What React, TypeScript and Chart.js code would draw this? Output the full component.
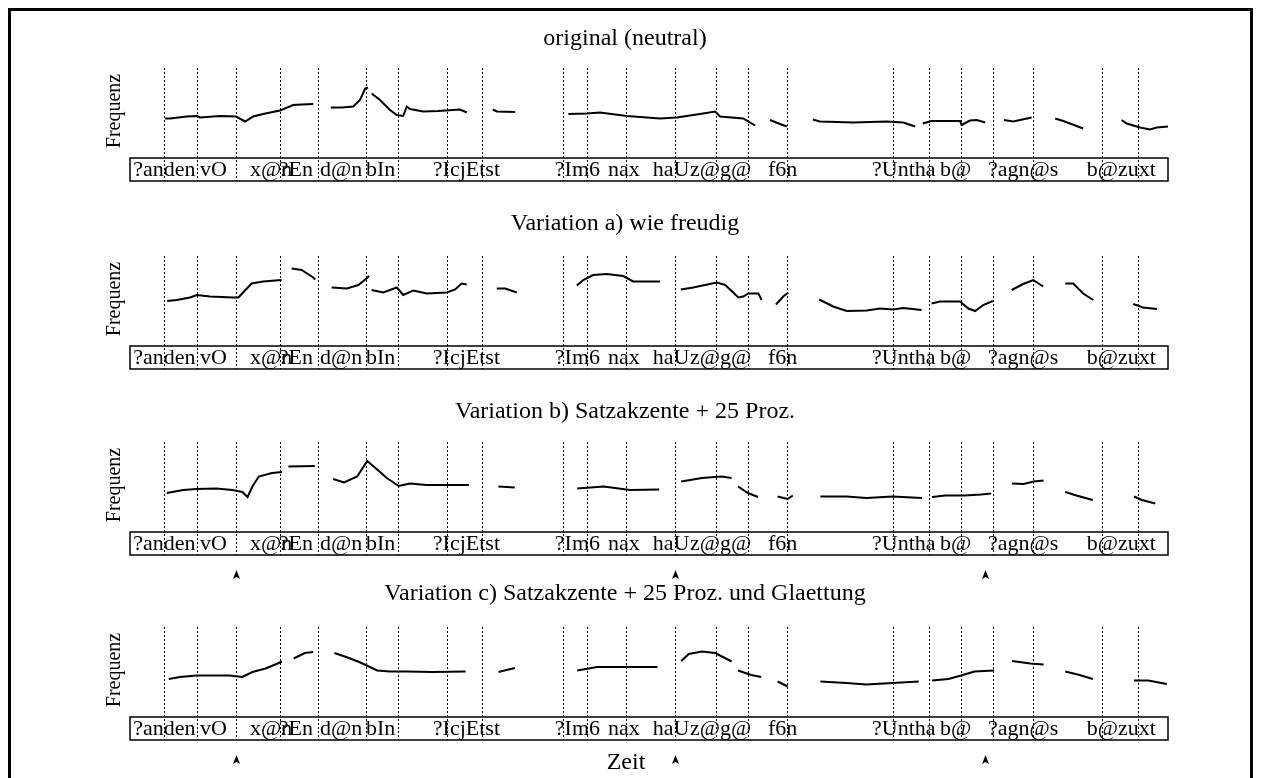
import React, { useEffect, useRef } from "react";
import { Chart, registerables } from "chart.js";

Chart.register(...registerables);

// ---- data (time in ms, fundamental frequency in Hz) ----
const boundaryMs = [84, 168, 265, 375, 469, 589, 671, 793, 880, 1083, 1143, 1240, 1363, 1466, 1544, 1643, 1907, 1998, 2078, 2158, 2257, 2429, 2521];
const phonemeText = ["?anden", "vO", "x@n", "?En", "d@n", "bIn", "?IcjEtst", "?Im6", "nax", "haU", "z@g@", "f6n", "?Untha", "b@", "?agn@s", "b@zuxt"];
const phonemeStartMs = [8, 175, 300, 372, 475, 590, 757, 1062, 1195, 1307, 1400, 1595, 1855, 2025, 2145, 2392];
const accentMs = [265, 1363, 2138];
const panelTitles = [
  "original (neutral)",
  "Variation a) wie freudig",
  "Variation b) Satzakzente + 25 Proz.",
  "Variation c) Satzakzente + 25 Proz. und Glaettung",
];
const yAxisLabel = "Frequenz";
const xAxisLabel = "Zeit";

const neutralMs = [
  [88, 100, 142, 168, 175, 225, 265, 288, 308, 333, 375, 408, 429, 458],
  [502, 530, 558, 575, 588, 595],
  [604, 625, 650, 667, 683, 692, 700, 733, 770, 808, 825, 842],
  [907, 917, 963],
  [1096, 1142, 1175, 1242, 1325, 1367, 1433, 1463, 1475, 1533, 1550, 1563],
  [1600, 1625, 1642],
  [1707, 1725, 1808, 1892, 1933, 1963],
  [1982, 2004, 2075, 2079, 2100, 2117, 2138],
  [2185, 2208, 2254],
  [2313, 2333, 2383],
  [2479, 2492, 2525, 2550, 2567, 2596],
];
const neutralHz = [
  [159, 159, 163, 164, 161, 164, 163, 153, 163, 168, 175, 186, 187, 188],
  [181, 181, 183, 196, 219, 221],
  [209, 196, 176, 166, 164, 183, 178, 173, 174, 176, 177, 171],
  [177, 173, 172],
  [168, 169, 171, 164, 159, 161, 169, 173, 163, 159, 151, 145],
  [156, 148, 143],
  [157, 153, 151, 153, 151, 143],
  [149, 154, 154, 146, 155, 156, 151],
  [156, 153, 161],
  [159, 154, 139],
  [156, 149, 141, 137, 141, 143],
];

const joyfulMs = [
  [93, 117, 150, 167, 200, 258, 271, 304, 333, 379],
  [404, 429, 458, 463],
  [504, 542, 571, 588, 598],
  [604, 633, 667, 683, 708, 742, 792, 813, 829, 842],
  [917, 938, 967],
  [1117, 1133, 1158, 1192, 1233, 1258, 1325],
  [1377, 1408, 1467, 1488, 1521, 1533, 1546, 1571, 1579],
  [1615, 1633, 1646],
  [1723, 1758, 1792, 1842, 1875, 1908, 1933, 1979],
  [2004, 2025, 2075, 2096, 2113, 2133, 2157],
  [2204, 2233, 2258, 2283],
  [2338, 2358, 2383, 2408],
  [2508, 2533, 2567],
];
const joyfulHz = [
  [170, 172, 177, 182, 179, 177, 177, 205, 209, 212],
  [235, 232, 217, 213],
  [197, 195, 202, 213, 220],
  [192, 187, 197, 182, 191, 185, 187, 193, 205, 203],
  [195, 195, 187],
  [201, 212, 222, 224, 220, 209, 209],
  [193, 197, 207, 202, 177, 179, 185, 185, 172],
  [163, 179, 187],
  [173, 159, 150, 151, 155, 153, 156, 152],
  [165, 169, 169, 155, 150, 162, 170],
  [192, 204, 212, 199],
  [205, 205, 185, 172],
  [164, 157, 154],
];

const accentedMs = [
  [92, 133, 166, 215, 256, 281, 294, 306, 322, 355, 380],
  [396, 462],
  [508, 535, 568, 593, 618, 642, 672, 700, 741, 790, 847],
  [921, 962],
  [1118, 1184, 1250, 1323],
  [1378, 1430, 1479, 1504],
  [1520, 1545, 1570],
  [1619, 1644, 1657],
  [1726, 1791, 1841, 1906, 1980],
  [2005, 2038, 2087, 2128, 2153],
  [2205, 2234, 2259, 2284],
  [2338, 2366, 2407],
  [2510, 2530, 2563],
];
const accentedHz = [
  [158, 164, 166, 167, 164, 160, 150, 171, 191, 198, 200],
  [211, 212],
  [186, 179, 191, 222, 205, 188, 172, 177, 174, 174, 174],
  [171, 169],
  [167, 171, 164, 165],
  [181, 188, 191, 188],
  [171, 158, 150],
  [151, 146, 153],
  [151, 151, 148, 151, 148],
  [150, 153, 153, 155, 157],
  [177, 176, 181, 183],
  [160, 153, 144],
  [151, 144, 137],
];

const smoothedMs = [
  [97, 125, 166, 248, 281, 306, 339, 363, 380],
  [409, 437, 458],
  [511, 544, 576, 618, 650, 691, 757, 839],
  [921, 962],
  [1118, 1168, 1233, 1319],
  [1378, 1397, 1430, 1463, 1504],
  [1520, 1553, 1578],
  [1619, 1644],
  [1726, 1791, 1841, 1906, 1972],
  [2005, 2046, 2078, 2111, 2160],
  [2205, 2251, 2284],
  [2338, 2374, 2407],
  [2510, 2546, 2592],
];
const smoothedHz = [
  [156, 160, 163, 163, 160, 170, 177, 185, 191],
  [197, 208, 210],
  [208, 199, 189, 173, 171, 171, 170, 171],
  [170, 178],
  [173, 180, 180, 180],
  [192, 206, 211, 208, 191],
  [173, 164, 160],
  [151, 141],
  [151, 148, 145, 148, 151],
  [153, 156, 163, 171, 173],
  [192, 187, 185],
  [171, 164, 156],
  [153, 153, 146],
];

const timeMin = 0;
const timeMax = 2595;
const hzMin = 80;
const hzMax = 260;

// ---- layout (page pixels) ----
const PLOT_TOPS = [68, 256, 442, 627];
const TITLE_GAPS = [29, 32, 30, 33];
const PLOT_H = 90;
const BOX_H = 23;
const CANVAS_PAD_TOP = 60;
const CANVAS_H = 210;
const TITLE_CX = 625;
const SERIF = '"Liberation Serif", "DejaVu Serif", serif';

function buildPoints(ms: number[][], hz: number[][]) {
  const pts: { x: number; y: number | null }[] = [];
  ms.forEach((seg, i) => {
    if (i > 0) pts.push({ x: seg[0], y: null });
    seg.forEach((t, j) => pts.push({ x: t, y: hz[i][j] }));
  });
  return pts;
}

const panels = [
  { title: panelTitles[0], ms: neutralMs, hz: neutralHz, accents: false, xLabel: false },
  { title: panelTitles[1], ms: joyfulMs, hz: joyfulHz, accents: false, xLabel: false },
  { title: panelTitles[2], ms: accentedMs, hz: accentedHz, accents: true, xLabel: false },
  { title: panelTitles[3], ms: smoothedMs, hz: smoothedHz, accents: true, xLabel: true },
];

const decorPlugin = {
  id: "prosodyDecor",
  beforeDatasetsDraw(chart: any) {
    const { ctx, chartArea } = chart;
    const xs = chart.scales.x;
    const boxBottom = chartArea.bottom + BOX_H;
    ctx.save();
    ctx.strokeStyle = "#000";
    ctx.lineWidth = 1;
    ctx.setLineDash([2, 2]);
    boundaryMs.forEach((t) => {
      const x = Math.round(xs.getPixelForValue(t)) + 0.5;
      ctx.beginPath();
      ctx.moveTo(x, chartArea.top);
      ctx.lineTo(x, boxBottom);
      ctx.stroke();
    });
    ctx.restore();
  },
  afterDraw(chart: any, _args: any, opts: any) {
    const { ctx, chartArea } = chart;
    const xs = chart.scales.x;
    const boxTop = chartArea.bottom;
    const boxBottom = boxTop + BOX_H;
    ctx.save();
    ctx.fillStyle = "#000";
    ctx.strokeStyle = "#000";
    // title
    ctx.font = `24px ${SERIF}`;
    ctx.textAlign = "center";
    ctx.textBaseline = "middle";
    ctx.fillText(opts.title, TITLE_CX, chartArea.top - opts.titleGap);
    // y label
    ctx.save();
    ctx.translate(115, chartArea.top + 43);
    ctx.rotate(-Math.PI / 2);
    ctx.font = `20px ${SERIF}`;
    ctx.fillText(yAxisLabel, 0, 0);
    ctx.restore();
    // phoneme box
    ctx.lineWidth = 1.5;
    ctx.setLineDash([]);
    ctx.strokeRect(chartArea.left, boxTop, chartArea.right - chartArea.left, BOX_H);
    ctx.font = `22px ${SERIF}`;
    ctx.textAlign = "left";
    ctx.textBaseline = "middle";
    phonemeText.forEach((s, i) => {
      ctx.fillText(s, xs.getPixelForValue(phonemeStartMs[i]), boxTop + BOX_H / 2 + 1);
    });
    // accent marks
    if (opts.accents) {
      accentMs.forEach((t) => {
        const x = Math.round(xs.getPixelForValue(t)) + 0.5;
        const y = boxBottom + 20;
        ctx.beginPath();
        ctx.moveTo(x, y - 5);
        ctx.lineTo(x + 3.5, y + 4);
        ctx.lineTo(x, y + 2);
        ctx.lineTo(x - 3.5, y + 4);
        ctx.closePath();
        ctx.fill();
      });
    }
    if (opts.xLabel) {
      ctx.font = `24px ${SERIF}`;
      ctx.textAlign = "center";
      ctx.fillText(xAxisLabel, 626, boxBottom + 23);
    }
    ctx.restore();
  },
};

function Panel({ index }: { index: number }) {
  const ref = useRef<HTMLCanvasElement | null>(null);
  useEffect(() => {
    const p = panels[index];
    const chart = new Chart(ref.current as HTMLCanvasElement, {
      type: "line",
      data: {
        datasets: [
          {
            data: buildPoints(p.ms, p.hz) as any,
            borderColor: "#000",
            borderWidth: 2,
            pointRadius: 0,
            tension: 0,
            spanGaps: false,
            fill: false,
          },
        ],
      },
      options: {
        animation: false,
        responsive: false,
        events: [],
        layout: {
          padding: { left: 130, right: 1261 - 1168, top: CANVAS_PAD_TOP, bottom: CANVAS_H - CANVAS_PAD_TOP - PLOT_H },
        },
        plugins: {
          legend: { display: false },
          tooltip: { enabled: false },
          prosodyDecor: { title: p.title, accents: p.accents, xLabel: p.xLabel, titleGap: TITLE_GAPS[index] },
        } as any,
        scales: {
          x: { type: "linear", min: timeMin, max: timeMax, display: false },
          y: { type: "linear", min: hzMin, max: hzMax, display: false },
        },
      },
      plugins: [decorPlugin],
    });
    return () => chart.destroy();
  }, [index]);
  return (
    <canvas
      ref={ref}
      width={1261}
      height={CANVAS_H}
      style={{ position: "absolute", left: 0, top: PLOT_TOPS[index] - CANVAS_PAD_TOP, width: 1261, height: CANVAS_H }}
    />
  );
}

export default function App() {
  return (
    <div style={{ position: "absolute", left: 0, top: 0, width: 1261, height: 778, overflow: "hidden", background: "#fff" }}>
      <div
        style={{
          position: "absolute",
          left: 8,
          top: 8,
          width: 1245,
          height: 770,
          borderTop: "3px solid #000",
          borderLeft: "3px solid #000",
          borderRight: "3px solid #000",
          boxSizing: "border-box",
        }}
      />
      {panels.map((_, i) => (
        <Panel key={i} index={i} />
      ))}
    </div>
  );
}
